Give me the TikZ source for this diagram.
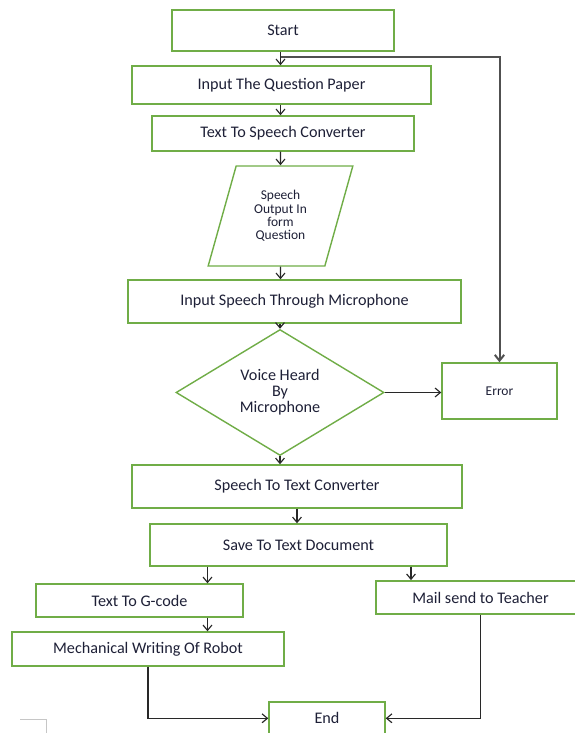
\documentclass[tikz,border=0pt]{standalone}
\usepackage{fontspec}
\setmainfont{Carlito}
\usetikzlibrary{shapes.geometric,arrows.meta,positioning,calc}
\definecolor{BoxGreen}{RGB}{112,173,71}
\definecolor{InkDark}{RGB}{30,32,55}
\definecolor{LineDark}{RGB}{40,40,40}
\definecolor{LoopGray}{RGB}{80,80,80}
\tikzset{
  gbox/.style={draw=BoxGreen,fill=white,line width=1.2pt,inner sep=0pt,
               font=\fontsize{13.8}{13.6}\selectfont,text=InkDark,align=center},
  sbox/.style={gbox,font=\fontsize{11.5}{11.4}\selectfont},
  pbox/.style={gbox,trapezium,trapezium left angle=72,trapezium right angle=108,
               trapezium stretches=true,font=\fontsize{11.5}{11.4}\selectfont},
  dbox/.style={gbox,diamond},
  arr/.style={-{Straight Barb[length=4.5pt,width=7.5pt]},LineDark,line width=1pt},
  arrl/.style={-{Straight Barb[length=5pt,width=8pt]},LoopGray,line width=1.7pt},
}
\begin{document}
\begin{tikzpicture}
    \useasboundingbox (0,0) rectangle (17.22,21.99);

    % Main column
    \node[gbox, minimum width=6.66cm, minimum height=1.23cm] (start) at (8.49, 21.075) {Start};
    \node[gbox, minimum width=8.97cm, minimum height=1.14cm] (inq) at (8.445, 19.44) {Input The Question Paper};
    \node[gbox, minimum width=7.86cm, minimum height=1.05cm] (tts) at (8.49, 17.985) {Text To Speech Converter};
    \node[pbox, minimum width=4.35cm, minimum height=3cm] (spout) at (8.415, 15.51) {Speech\\Output In\\form\\Question};
    \node[gbox, minimum width=9.99cm, minimum height=1.29cm] (ism) at (8.835, 12.945) {Input Speech Through Microphone};
    \node[dbox, minimum width=6.24cm, minimum height=3.57cm] (voice) at (8.4, 10.215) {Voice Heard\\By\\Microphone};
    \node[sbox, minimum width=3.45cm, minimum height=1.68cm] (err) at (14.985, 10.26) {Error};
    \node[gbox, minimum width=9.9cm, minimum height=1.29cm] (stt) at (8.91, 7.395) {Speech To Text Converter};
    \node[gbox, minimum width=8.91cm, minimum height=1.26cm] (save) at (8.955, 5.64) {Save To Text Document};

    % Branches
    \node[gbox, minimum width=6.21cm, minimum height=0.99cm] (gcode) at (4.185, 3.975) {Text To G-code};
    \node[gbox, minimum width=8.16cm, minimum height=1.02cm] (mech) at (4.44, 2.52) {Mechanical Writing Of Robot};
    \node[gbox, minimum width=6.27cm, minimum height=1.0cm] (mail) at (14.415, 4.065) {Mail send to Teacher};
    \node[gbox, minimum width=3.48cm, minimum height=0.99cm] (stop) at (9.81, 0.441) {End};

    \coordinate (split) at ($(start.south -| spout)+(0,-0.16)$);
    \coordinate (lt) at ($(save.south west)!0.195!(save.south east)$);
    \coordinate (rt) at ($(save.south west)!0.877!(save.south east)$);

    % Arrows
    \draw[arr] (start.south -| spout) -- (inq.north -| spout);
    \draw[arr] (inq.south -| spout) -- (tts.north -| spout);
    \draw[arr] (tts.south -| spout) -- (spout.north);
    \draw[arr] (spout.south) -- (ism.north -| spout);
    \draw[arr] (ism.south -| voice) -- (voice.north);
    \draw[arr] (voice.east) -- (voice.east -| err.west);
    \draw[arrl] (split) -| (err.north);
    \draw[arr] (voice.south) -- (stt.north -| voice);
    \draw[arr] (stt.south) -- (stt.south |- save.north);
    \draw[arr] (lt) -- (lt |- gcode.north);
    \draw[arr] (gcode.south -| lt) -- (mech.north -| lt);
    \draw[arr] (rt) -- (rt |- mail.north);
    \draw[arr] (mech.south) |- (stop.west);
    \draw[arr] (mail.south) |- (stop.east);

    % page mark
    \draw[gray!45, line width=0.8pt] (0.6, 0.42) -- (1.38, 0.42) -- (1.38, 0);
\end{tikzpicture}
\end{document}
